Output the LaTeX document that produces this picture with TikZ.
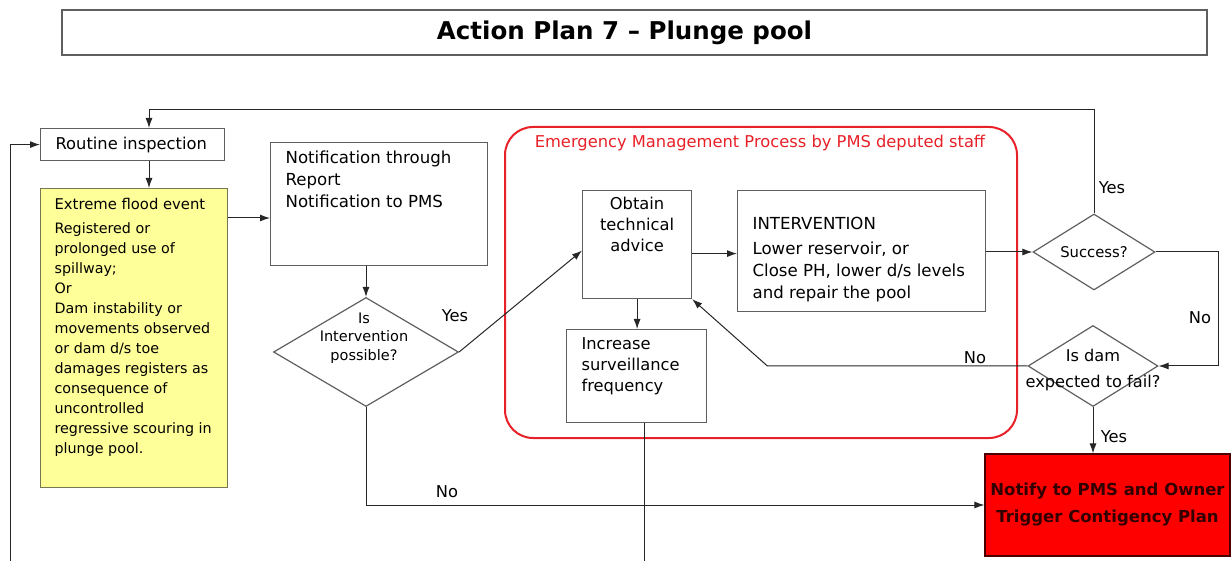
\documentclass[tikz,border=0pt]{standalone}
\usepackage{fontspec}
\setmainfont{DejaVu Sans}
\usetikzlibrary{shapes.geometric,arrows.meta}
\definecolor{boxgray}{RGB}{95,95,95}
\definecolor{floodyellow}{RGB}{255,255,153}
\definecolor{yellowedge}{RGB}{120,120,80}
\definecolor{empred}{RGB}{232,32,40}
\newcommand{\boxtxt}[4][t]{\parbox[c][#3][#1]{#2}{\raggedright #4}}

\begin{document}
\begin{tikzpicture}[x=1pt,y=-1pt,
every node/.style = {
text = black,
font = \fontsize{16.3}{21}\selectfont},
stepbox/.style  = {
draw = boxgray,
line width = 1.2pt,
anchor = north west,
inner xsep = 15pt,
inner ysep = 8pt},
question/.style = {
shape = diamond,
draw = boxgray,
line width = 1.2pt,
inner sep = 0pt},
link/.style = {-{Latex[length=10pt,width=7pt]},
line width = 1pt,
black!85}
]
\useasboundingbox (0,0) rectangle (1232,561);
%
\node[draw=boxgray, line width=1.5pt, minimum width=1145pt, minimum height=45pt,
  font=\bfseries\fontsize{24.5}{28}\selectfont] (title) at (634.5,32.5) {Action Plan 7 – Plunge pool\hspace*{20pt}};
%
\node[stepbox, inner ysep=0pt] (routine) at (40,128) {\boxtxt[c]{154pt}{32pt}{Routine inspection}};
\node[stepbox, fill=floodyellow, draw=yellowedge, inner xsep=14pt, inner ysep=10pt,
  font=\fontsize{14.3}{20}\selectfont] (flood) at (40,188)
  {\boxtxt{159pt}{279pt}{\fontsize{14.8}{20}\selectfont Extreme flood event\\[4pt]\fontsize{14.3}{20}\selectfont Registered or\\ prolonged use of\\ spillway;\\ Or\\
  Dam instability or\\ movements observed\\ or dam d/s toe\\ damages registers as\\ consequence of\\
  uncontrolled\\ regressive scouring in\\ plunge pool.}};
\node[stepbox, font=\fontsize{16.6}{22}\selectfont] (notif) at (270,142)
  {\boxtxt{187pt}{107pt}{Notification through\\ Report\\ Notification to PMS}};
\node[question, minimum width=185pt, minimum height=109pt] (dint) at (366,352) {};
\node[align=center, font=\fontsize{14.5}{18.5}\selectfont] (dinttxt) at (364,338) {Is\\ Intervention\\ possible?};
%
\node[draw=empred, line width=2pt, rounded corners=28pt, minimum width=512pt, minimum height=311pt] (emp) at (761,282.5) {};
\node[text=empred, font=\fontsize{16.3}{20}\selectfont] (emptitle) at (760,143) {Emergency Management Process by PMS deputed staff};
\node[stepbox, inner xsep=8pt, inner ysep=7pt] (obtain) at (582,190) {\boxtxt{93pt}{94pt}{\centering Obtain\\ technical\\ advice}};
\node[stepbox, inner ysep=6pt, font=\fontsize{16.6}{22}\selectfont] (interv) at (737,190)
  {\boxtxt[b]{218pt}{109pt}{INTERVENTION\\[3pt] Lower reservoir, or\\ Close PH, lower d/s levels\\ and repair the pool\par\vspace{4pt}}};
\node[stepbox] (incr) at (566,329) {\boxtxt{110pt}{77pt}{Increase\\ surveillance\\ frequency}};
%
\node[question, minimum width=122pt, minimum height=76pt] (dsucc) at (1094,252) {};
\node[font=\fontsize{14.8}{18}\selectfont] (dsucctxt) at (1094,252) {Success?};
\node[question, minimum width=130pt, minimum height=81pt] (dfail) at (1093,366) {};
\node[align=center, font=\fontsize{16.2}{26}\selectfont] (dfailtxt) at (1093,370) {Is dam\\ expected to fail?};
\node[draw=black!70!red, line width=1.2pt, fill=red, minimum width=245pt, minimum height=102pt, align=center,
  text=black!80!red, font=\bfseries\fontsize{16.5}{27}\selectfont] (notify) at (1107.5,505) {Notify to PMS and Owner\\ Trigger Contigency Plan};
%
\node (yint) at (455,316) {Yes};
\node (nint) at (447,492) {No};
\node (ysucc) at (1112,188) {Yes};
\node (nsucc) at (1200,318) {No};
\node (nfail) at (975,358) {No};
\node (yfail) at (1114,437) {Yes};
%
\coordinate (tl) at (149,110);
\coordinate (bl) at (10,561);
\coordinate (fl) at ([yshift=-30pt]flood.north east);
\coordinate (oi) at ([yshift=-9pt]obtain.east);
\draw[link] (dsucc.north) |- (tl) -- (tl |- routine.north);
\draw[link] (tl |- routine.south) -- (tl |- flood.north);
\draw[link] (bl) |- (routine.west);
\draw[link] (fl) -- (fl -| notif.west);
\draw[link] (notif.south -| dint.north) -- (dint.north);
\draw[link] (dint.east) -- ([yshift=-6pt]obtain.west);
\draw[link] (dint.south) |- (notify.west);
\draw[link] (oi) -- (oi -| interv.west);
\draw[link] (obtain.south) -- (obtain.south |- incr.north);
\draw[line width=1pt, black!85] ([xshift=8pt]incr.south) -- ++(0,139);
\draw[link] (interv.east |- dsucc.west) -- (dsucc.west);
\draw[link] (dsucc.east) -- ++(63,0) |- (dfail.east);
\draw[link] (dfail.west) -- ++(-260,0) -- (obtain.south east);
\draw[link] (dfail.south) -- (dfail.south |- notify.north);
%
\end{tikzpicture}
\end{document}
